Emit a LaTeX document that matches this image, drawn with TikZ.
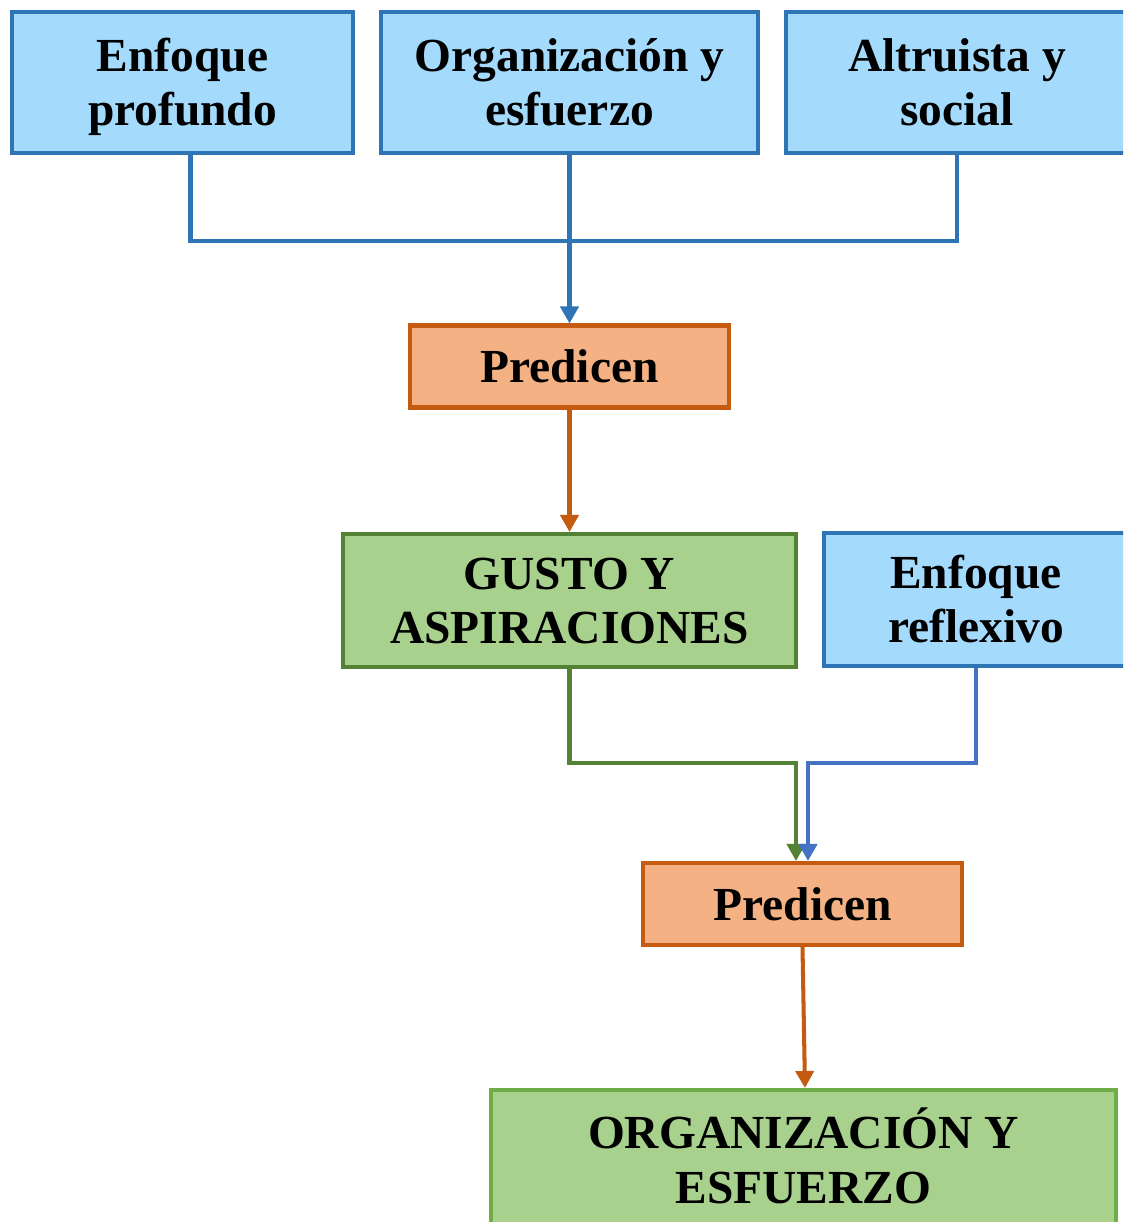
\documentclass[tikz,border=0pt]{standalone}
\usepackage{fontspec}
\setmainfont{Liberation Serif}
\usetikzlibrary{arrows.meta}
\definecolor{azulfondo}{RGB}{164,218,252}
\definecolor{azulborde}{RGB}{46,117,182}
\definecolor{azulflecha}{RGB}{68,114,196}
\definecolor{naranjafondo}{RGB}{244,177,131}
\definecolor{naranjaborde}{RGB}{197,90,17}
\definecolor{verdefondo}{RGB}{169,209,142}
\definecolor{verdeborde}{RGB}{84,130,53}
\definecolor{verdeclaro}{RGB}{112,173,71}
% two lines with fixed baselines
\newcommand{\doslineas}[2]{\rule{0pt}{25.4pt}#1\\#2\rule[-7pt]{0pt}{7pt}}

\begin{document}
\begin{tikzpicture}[x=0.02cm,y=-0.02cm,
  caja/.style={draw,line width=2.3pt,align=center,inner sep=0pt,
    font=\fontsize{27}{31}\selectfont\bfseries},
  enfoque/.style={caja,draw=azulborde,fill=azulfondo,minimum height=2.82cm},
  predice/.style={caja,draw=naranjaborde,fill=naranjafondo,minimum width=6.38cm,minimum height=1.64cm},
  resultado/.style={caja,draw=verdeborde,fill=verdefondo},
  flecha/.style={line width=2.3pt,-{Triangle[length=0.34cm,width=0.36cm]}}]
\useasboundingbox (0,0) rectangle (1123,1222);
\clip (0,0) rectangle (1123,1222);

% enfoques de arriba
\node[enfoque,minimum width=6.82cm] (profundo) at (182.5,82.5) {\doslineas{Enfoque}{profundo}};
\node[enfoque,minimum width=7.54cm] (organiza) at (569.5,82.5) {\doslineas{Organización y}{esfuerzo}};
\node[enfoque,minimum width=6.84cm] (altruista) at (957,82.5) {\doslineas{Altruista y}{social}};

\node[predice] (predicen1) at (569.5,366.5) {Predicen};

\node[resultado,minimum width=9.06cm,minimum height=2.66cm] (gusto) at (569.5,600.5) {\doslineas{GUSTO Y}{ASPIRACIONES}};
\node[enfoque,minimum width=6.08cm,minimum height=2.66cm] (reflexivo) at (976,599.5) {\doslineas{Enfoque}{reflexivo}};

\node[predice] (predicen2) at (802.5,904) {Predicen};

\node[resultado,draw=verdeclaro,minimum width=12.5cm,minimum height=2.8cm] (esfuerzo) at (803.5,1160) {\doslineas{ORGANIZACIÓN Y}{ESFUERZO}};

% conectores
\draw[azulborde,line width=2.3pt] ([xshift=0.16cm]profundo.south) -- ++(0,86) -| (altruista.south);
\draw[flecha,azulborde] (organiza.south) -- (predicen1.north);
\draw[flecha,naranjaborde] (predicen1.south) -- (gusto.north);
\draw[flecha,verdeborde] (gusto.south) -- ++(0,94) -| ([xshift=-0.13cm]predicen2.north);
\draw[flecha,azulflecha] (reflexivo.south) -- ++(0,95) -| ([xshift=0.11cm]predicen2.north);
\draw[flecha,naranjaborde] (predicen2.south) -- ([xshift=0.03cm]esfuerzo.north);
\end{tikzpicture}
\end{document}
